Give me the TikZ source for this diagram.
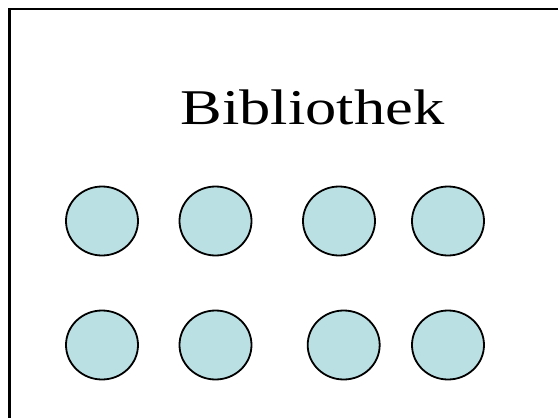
\documentclass[tikz,border=0pt]{standalone}
\usepackage{fontspec}
\setmainfont{Liberation Serif}
\usetikzlibrary{shapes.geometric}
\begin{document}
\begin{tikzpicture}[x=1pt,y=-1pt,
  disc/.style={ellipse,draw=black,line width=1.8pt,fill=discfill,minimum width=72pt,minimum height=69pt,inner sep=0pt},
  title/.style={font=\fontsize{50}{54}\selectfont,inner sep=0pt,anchor=base,xscale=1.25,transform shape}]
\definecolor{discfill}{HTML}{BBE0E3}
\useasboundingbox (0,0) rectangle (558,418);
\clip (0,0) rectangle (558,418);
\fill[white] (0,0) rectangle (558,418);
\draw[line width=2.2pt] (9.5,440) -- (9.5,9) -- (580,9);
\node[title] (t) at (312.5,124.5) {Bibliothek};
\node[disc] (a1) at (102,221) {};
\node[disc] (a2) at (215.5,221) {};
\node[disc] (a3) at (339,221) {};
\node[disc] (a4) at (448,221) {};
\node[disc] (b1) at (102,345) {};
\node[disc] (b2) at (215.5,345) {};
\node[disc] (b3) at (343.7,345) {};
\node[disc] (b4) at (448,345) {};
\end{tikzpicture}
\end{document}
